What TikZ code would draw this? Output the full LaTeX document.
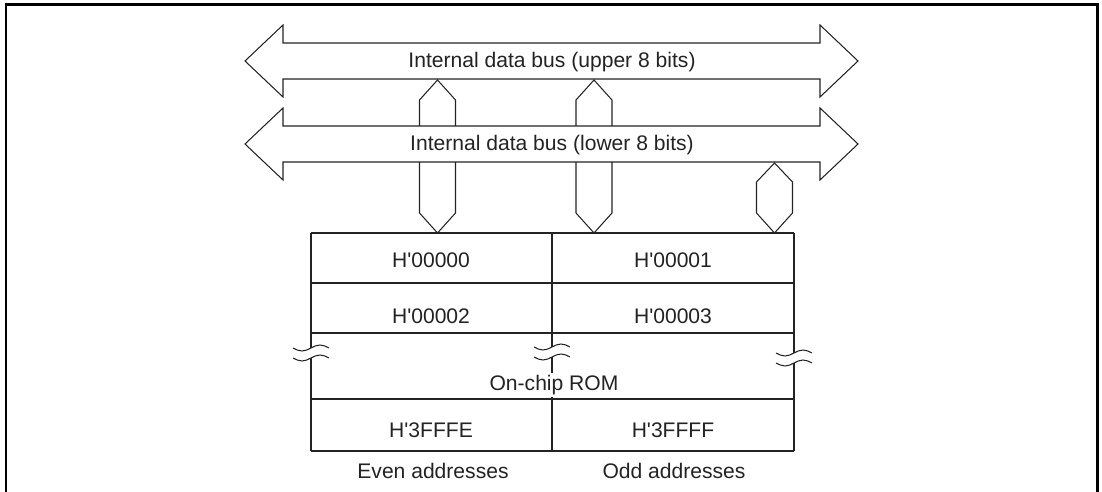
\documentclass[tikz,border=0pt]{standalone}
\usepackage{fontspec}
\setsansfont{Liberation Sans}
\usepackage{tikz}
\definecolor{ink}{RGB}{35,35,35}

\begin{document}
\begin{tikzpicture}[x=0.02cm, y=-0.02cm, font=\sffamily\fontsize{12pt}{14pt}\selectfont, color=ink,
  bus/.style={line width=0.6pt},
  cell/.style={line width=0.9pt},
  brk/.style={line width=0.6pt},
  lbl/.style={inner sep=1pt}]
\useasboundingbox (0,0) rectangle (1102,492);

% ---- outer frame (runs off the bottom) ----
\draw[line width=1.7pt, black] (6,492) -- (6,5) -- (1097,5) -- (1097,492);

% ---- the two internal data buses ----
\foreach \yc/\which/\nm in {61/upper/ubus, 144/lower/lbus} {
  \draw[bus] (245,\yc) -- (283,\yc-36) -- (283,\yc-18) -- (820,\yc-18) -- (820,\yc-36)
    -- (858,\yc) -- (820,\yc+36) -- (820,\yc+18) -- (283,\yc+18) -- (283,\yc+36) -- cycle;
  \node[lbl] (\nm) at (552,\yc+1) {Internal data bus (\which\ 8 bits)};
}

% ---- links: upper bus down through the lower bus ----
\foreach \xc in {437.5, 594} {
  \draw[bus] (\xc-18,126) -- (\xc-18,100) -- (\xc,80) -- (\xc+18,100) -- (\xc+18,126);
  \draw[bus] (\xc-18,162) -- (\xc-18,213) -- (\xc,233) -- (\xc+18,213) -- (\xc+18,162);
}
% lower bus -> odd addresses
\draw[bus] (774.5,163) -- (792.5,182) -- (792.5,213) -- (774.5,233) -- (756.5,213)
  -- (756.5,182) -- cycle;

% ---- on-chip ROM table ----
\draw[cell] (311,233) -- (794,233);
\foreach \ry in {283, 333, 399, 451}
  \draw[cell] (311,\ry) -- (794,\ry);
\foreach \bx/\by in {311/348, 552/347, 794/353} {
  \draw[cell] (\bx,233) -- (\bx,\by);
  \draw[cell] (\bx,\by+10) -- (\bx,451);
  % break marks
  \draw[brk] (\bx-18,\by) sin (\bx-9,\by+3) cos (\bx,\by) sin (\bx+9,\by-3) cos (\bx+18,\by);
  \draw[brk] (\bx-18,\by+10) sin (\bx-9,\by+13) cos (\bx,\by+10) sin (\bx+9,\by+7) cos (\bx+18,\by+10);
}

\node (r0) at (431,260) {H\textquotesingle 00000};
\node (r1) at (673,260) {H\textquotesingle 00001};
\node (r2) at (431,316) {H\textquotesingle 00002};
\node (r3) at (673,316) {H\textquotesingle 00003};
\node[lbl, fill=white] (rom) at (554,385) {On-chip ROM};
\node (rlo) at (431,430) {H\textquotesingle 3FFFE};
\node (rhi) at (673,430) {H\textquotesingle 3FFFF};

% caption row
\node (even) at (433,471) {Even addresses};
\node (odd) at (674,471) {Odd addresses};
\end{tikzpicture}
\end{document}
